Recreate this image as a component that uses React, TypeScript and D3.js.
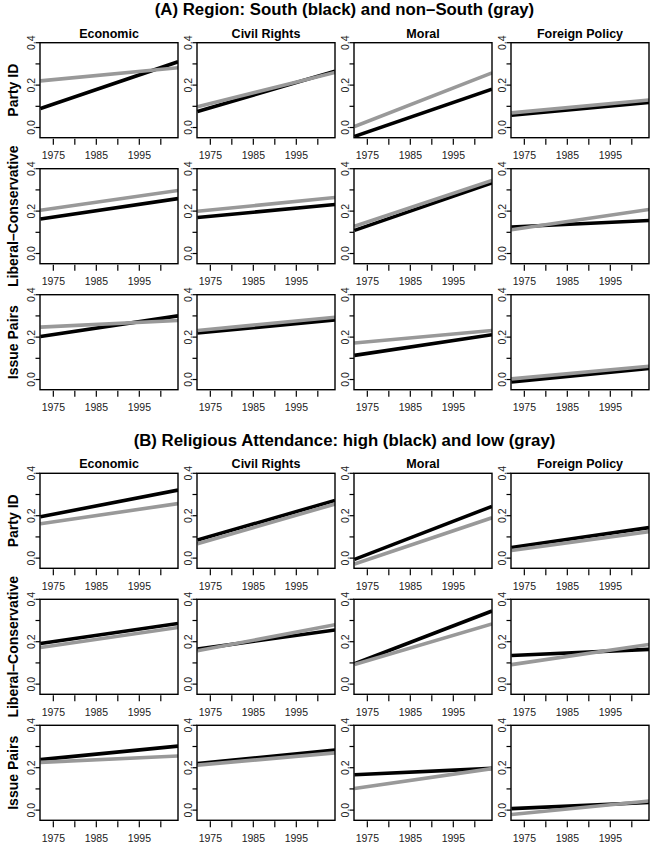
import React from "react";
import * as d3 from "d3";

// ---- data ----
const sectionTitles = [
  "(A) Region: South (black) and non\u2013South (gray)",
  "(B) Religious Attendance: high (black) and low (gray)",
];
const columnTitles = ["Economic", "Civil Rights", "Moral", "Foreign Policy"];
const rowTitles = ["Party ID", "Liberal\u2013Conservative", "Issue Pairs"];
const years = [1972, 2004];
const xTickYears = [1975, 1980, 1985, 1990, 1995, 2000];
const xLabelYears = [1975, 1985, 1995];
const yTickValues = [0, 0.1, 0.2, 0.3, 0.4];
const yLabelValues = [0, 0.2, 0.4];

// [row][column] -> [value at 1972, value at 2004]
const southBlack = [
  [[0.09, 0.31], [0.075, 0.266], [-0.042, 0.181], [0.058, 0.118]],
  [[0.163, 0.259], [0.17, 0.231], [0.109, 0.333], [0.125, 0.156]],
  [[0.203, 0.3], [0.219, 0.281], [0.114, 0.211], [-0.011, 0.052]],
];
const nonSouthGray = [
  [[0.22, 0.282], [0.098, 0.26], [0.005, 0.258], [0.069, 0.13]],
  [[0.204, 0.297], [0.199, 0.264], [0.128, 0.345], [0.112, 0.208]],
  [[0.247, 0.278], [0.231, 0.294], [0.172, 0.231], [0.003, 0.0625]],
];
const highAttendBlack = [
  [[0.195, 0.321], [0.085, 0.272], [-0.006, 0.244], [0.05, 0.144]],
  [[0.192, 0.286], [0.165, 0.255], [0.096, 0.345], [0.135, 0.164]],
  [[0.238, 0.302], [0.22, 0.283], [0.167, 0.197], [0.007, 0.036]],
];
const lowAttendGray = [
  [[0.162, 0.257], [0.068, 0.255], [-0.028, 0.19], [0.036, 0.125]],
  [[0.173, 0.267], [0.157, 0.28], [0.092, 0.284], [0.092, 0.187]],
  [[0.225, 0.255], [0.212, 0.27], [0.102, 0.196], [-0.021, 0.043]],
];

const sections = [
  { black: southBlack, gray: nonSouthGray },
  { black: highAttendBlack, gray: lowAttendGray },
];

// ---- layout ----
const W = 652;
const H = 842;
const colLeft0 = 40;
const colStep = 157;
const panelW = 138;
const panelH = 95;
const rowStep = 126;
const sectionTop = [42.7, 473.3];
const FONT = "'Liberation Sans', Arial, Helvetica, sans-serif";

const x = d3.scaleLinear().domain([1971.9, 2004]).range([0, panelW]);
const y = d3.scaleLinear().domain([-0.048, 0.4]).range([panelH, 0]);
const line = d3
  .line<[number, number]>()
  .x((d) => x(d[0]))
  .y((d) => y(d[1]));

function Panel({ black, gray, id }: { black: number[]; gray: number[]; id: string }) {
  const bPts: [number, number][] = years.map((yr, i) => [yr, black[i]]);
  const gPts: [number, number][] = years.map((yr, i) => [yr, gray[i]]);
  return (
    <g>
      <defs>
        <clipPath id={id}>
          <rect x={0} y={0} width={panelW} height={panelH} />
        </clipPath>
      </defs>
      <g clipPath={`url(#${id})`}>
        <path d={line(bPts) || ""} fill="none" stroke="#000" strokeWidth={3.6} />
        <path d={line(gPts) || ""} fill="none" stroke="#999" strokeWidth={3.6} />
      </g>
      <rect x={0} y={0} width={panelW} height={panelH} fill="none" stroke="#000" strokeWidth={1.4} />
      {xTickYears.map((t) => (
        <line key={t} x1={x(t)} x2={x(t)} y1={panelH + 1} y2={panelH + 7} stroke="#000" strokeWidth={1.2} />
      ))}
      {xLabelYears.map((t) => (
        <text key={t} x={x(t)} y={panelH + 21.5} textAnchor="middle" fontSize={10.5} fill="#222" fontFamily={FONT}>
          {t}
        </text>
      ))}
      {yTickValues.map((t) => (
        <line key={t} x1={-4.5} x2={0} y1={y(t)} y2={y(t)} stroke="#000" strokeWidth={1.2} />
      ))}
      {yLabelValues.map((t) => (
        <text
          key={t}
          transform={`translate(${-5.5},${y(t)}) rotate(-90)`}
          textAnchor="middle"
          fontSize={10.5}
          fill="#222"
          fontFamily={FONT}
        >
          {t.toFixed(1)}
        </text>
      ))}
    </g>
  );
}

export default function App() {
  return (
    <svg
      width={W}
      height={H}
      viewBox={`0 0 ${W} ${H}`}
      style={{ position: "absolute", left: 0, top: 0, background: "#fff", display: "block" }}
    >
      <rect x={0} y={0} width={W} height={H} fill="#fff" />
      {sections.map((sec, s) => {
        const top = sectionTop[s];
        return (
          <g key={s}>
            <text
              x={(colLeft0 + colLeft0 + 3 * colStep + panelW) / 2}
              y={top - 27.5}
              textAnchor="middle"
              fontSize={16.8}
              fontWeight="bold"
              fontFamily={FONT}
              fill="#000"
            >
              {sectionTitles[s]}
            </text>
            {columnTitles.map((c, j) => (
              <text
                key={c}
                x={colLeft0 + j * colStep + panelW / 2}
                y={top - 5}
                textAnchor="middle"
                fontSize={12.5}
                fontWeight="bold"
                fontFamily={FONT}
                fill="#000"
              >
                {c}
              </text>
            ))}
            {rowTitles.map((r, i) => (
              <text
                key={r}
                transform={`translate(17.5,${top + i * rowStep + panelH / 2}) rotate(-90)`}
                textAnchor="middle"
                fontSize={14}
                fontWeight="bold"
                fontFamily={FONT}
                fill="#000"
              >
                {r}
              </text>
            ))}
            {rowTitles.map((r, i) =>
              columnTitles.map((c, j) => (
                <g key={`${i}-${j}`} transform={`translate(${colLeft0 + j * colStep},${top + i * rowStep})`}>
                  <Panel black={sec.black[i][j]} gray={sec.gray[i][j]} id={`clip-${s}-${i}-${j}`} />
                </g>
              ))
            )}
          </g>
        );
      })}
    </svg>
  );
}
